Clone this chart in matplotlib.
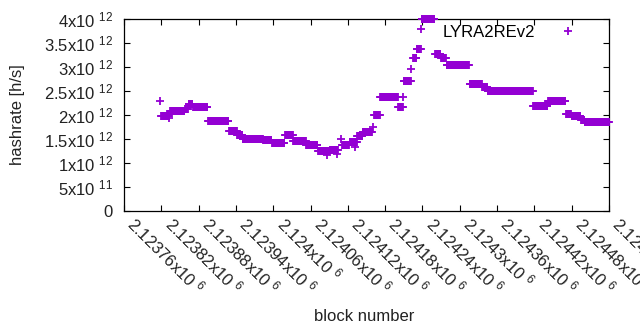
import matplotlib
matplotlib.use('Agg')
import matplotlib.pyplot as plt
import numpy as np

# plateaus of the hashrate estimate: first block, last block, value (h/s)
seg_first = [2123820, 2123834, 2123858, 2123864, 2123871, 2123895, 2123929,
             2123942, 2123951, 2123971, 2123984, 2123998, 2124019, 2124032,
             2124053, 2124072, 2124091, 2124111, 2124123, 2124135, 2124144,
             2124162, 2124172, 2124201, 2124210, 2124225, 2124231, 2124239,
             2124260, 2124270, 2124279, 2124316, 2124336, 2124345, 2124418,
             2124442, 2124471, 2124480, 2124495, 2124501]
seg_last = [2123832, 2123857, 2123863, 2123870, 2123894, 2123928, 2123941,
            2123950, 2123970, 2123983, 2123997, 2124018, 2124031, 2124052,
            2124071, 2124090, 2124104, 2124122, 2124134, 2124143, 2124159,
            2124171, 2124200, 2124208, 2124221, 2124230, 2124237, 2124259,
            2124269, 2124278, 2124315, 2124335, 2124344, 2124417, 2124441,
            2124470, 2124479, 2124494, 2124500, 2124540]
seg_value = [1.97e12, 2.08e12, 2.13e12, 2.23e12, 2.16e12, 1.87e12, 1.66e12,
             1.58e12, 1.49e12, 1.51e12, 1.47e12, 1.41e12, 1.58e12, 1.46e12,
             1.38e12, 1.26e12, 1.28e12, 1.37e12, 1.43e12, 1.57e12, 1.65e12,
             2.00e12, 2.37e12, 2.16e12, 2.71e12, 3.19e12, 3.38e12, 3.99e12,
             3.27e12, 3.19e12, 3.05e12, 2.64e12, 2.58e12, 2.51e12, 2.18e12,
             2.29e12, 2.03e12, 1.97e12, 1.89e12, 1.85e12]

# single blocks off the plateaus
single_block = [2123818, 2123833, 2124086, 2124103, 2124109, 2124131,
                2124160, 2124209, 2124222, 2124238]
single_value = [2.29e12, 1.93e12, 1.17e12, 1.19e12, 1.51e12, 1.34e12,
                1.76e12, 2.38e12, 2.96e12, 3.80e12]

xtick_values = [2123760, 2123820, 2123880, 2123940, 2124000, 2124060, 2124120,
                2124180, 2124240, 2124300, 2124360, 2124420, 2124480, 2124540]
ytick_values = [0, 0.5e12, 1e12, 1.5e12, 2e12, 2.5e12, 3e12, 3.5e12, 4e12]
ytick_labels = ['0', '5x10 $^{11}$', '1x10 $^{12}$', '1.5x10 $^{12}$',
                '2x10 $^{12}$', '2.5x10 $^{12}$', '3x10 $^{12}$',
                '3.5x10 $^{12}$', '4x10 $^{12}$']

plt.rcParams['font.family'] = ['Liberation Sans', 'DejaVu Sans']
plt.rcParams['mathtext.default'] = 'regular'
plt.rcParams['font.size'] = 12

blocks = []
rates = []
for a, b, v in zip(seg_first, seg_last, seg_value):
    n = np.arange(a, b + 1)
    blocks.append(n)
    rates.append(np.full(len(n), v))
blocks.append(np.array(single_block))
rates.append(np.array(single_value))
blocks = np.concatenate(blocks)
rates = np.concatenate(rates)
order = np.argsort(blocks, kind='stable')
blocks = blocks[order]
rates = rates[order]

fig = plt.figure(figsize=(6.4, 3.3), dpi=100)
ax = fig.add_axes([124/640, 1 - 211/330, 485/640, 192/330])

ax.plot(blocks, rates, linestyle='none', marker='+', color='#9400D3',
        markersize=5.2, markeredgewidth=1.3, clip_on=False, zorder=3,
        label='LYRA2REv2')

ax.set_xlim(2123760, 2124540)
ax.set_ylim(0, 4e12)

ax.set_xticks(xtick_values)
ax.set_xticklabels(['%gx10 $^{6}$' % (v / 1e6) for v in xtick_values],
                   rotation=-45, ha='left', va='bottom',
                   rotation_mode='anchor')
ax.set_yticks(ytick_values)
ax.set_yticklabels(ytick_labels)

ax.tick_params(direction='in', length=4, width=0.8, top=True, right=True,
               colors='black', labelcolor='#222222')
ax.tick_params(axis='x', pad=12)
ax.tick_params(axis='y', pad=8)
for s in ax.spines.values():
    s.set_linewidth(0.9)

ax.set_xlabel('block number', color='#222222')
ax.set_ylabel('hashrate [h/s]', color='#222222')
ax.xaxis.set_label_coords(0.495, -0.51)
ax.yaxis.set_label_coords(-0.205, 0.5)

ax.legend(loc='upper right', markerfirst=False, frameon=False, numpoints=1,
          handlelength=2, handletextpad=1.0, borderpad=0, borderaxespad=0,
          bbox_to_anchor=(585/640, 1 - 25/330),
          bbox_transform=fig.transFigure)

fig.savefig('out.png', dpi=100)
